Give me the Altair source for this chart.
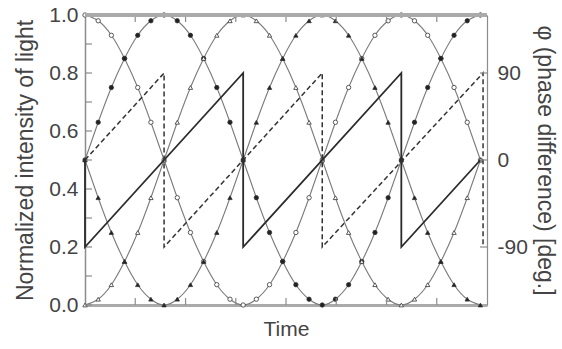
import altair as alt
import pandas as pd

# Sampling instants (time steps) and the four normalized intensities
t = list(range(31))
i_open_circle = [1.00, 0.98, 0.93, 0.85, 0.75, 0.63, 0.50, 0.37, 0.25, 0.15, 0.07, 0.02, 0.00, 0.02, 0.07, 0.15,
                 0.25, 0.37, 0.50, 0.63, 0.75, 0.85, 0.93, 0.98, 1.00, 0.98, 0.93, 0.85, 0.75, 0.63, 0.50]
i_filled_circle = [0.50, 0.63, 0.75, 0.85, 0.93, 0.98, 1.00, 0.98, 0.93, 0.85, 0.75, 0.63, 0.50, 0.37, 0.25, 0.15,
                   0.07, 0.02, 0.00, 0.02, 0.07, 0.15, 0.25, 0.37, 0.50, 0.63, 0.75, 0.85, 0.93, 0.98, 1.00]
i_open_triangle = [0.00, 0.02, 0.07, 0.15, 0.25, 0.37, 0.50, 0.63, 0.75, 0.85, 0.93, 0.98, 1.00, 0.98, 0.93, 0.85,
                   0.75, 0.63, 0.50, 0.37, 0.25, 0.15, 0.07, 0.02, 0.00, 0.02, 0.07, 0.15, 0.25, 0.37, 0.50]
i_filled_triangle = [0.50, 0.37, 0.25, 0.15, 0.07, 0.02, 0.00, 0.02, 0.07, 0.15, 0.25, 0.37, 0.50, 0.63, 0.75, 0.85,
                     0.93, 0.98, 1.00, 0.98, 0.93, 0.85, 0.75, 0.63, 0.50, 0.37, 0.25, 0.15, 0.07, 0.02, 0.00]

# Phase difference traces (deg.)
phase_solid_t = [0, 0, 12, 12, 24, 24, 30]
phase_solid = [0, -90, 90, -90, 90, -90, 0]
phase_dashed_t = [0, 6, 6, 18, 18, 30.2, 30.2]
phase_dashed = [0, 90, -90, 90, -90, 90, -90]

# Axis tick positions
time_ticks = [3.81, 7.63, 11.44, 15.25, 19.06, 22.88, 26.69]
intensity_labels = [0.0, 0.2, 0.4, 0.6, 0.8, 1.0]
intensity_ticks = [0.0, 0.1, 0.2, 0.3, 0.4, 0.5, 0.6, 0.7, 0.8, 0.9, 1.0]
phase_labels = [-90, 0, 90]

W, H = 402, 290
FONT = "Liberation Sans"
TXT = "#444444"

series_names = ["a", "b", "c", "d"]
series_values = [i_open_circle, i_filled_circle, i_open_triangle, i_filled_triangle]
rows = []
for name, vals in zip(series_names, series_values):
    for ti, v in zip(t, vals):
        rows.append({"t": ti, "I": v, "series": name})
df_int = pd.DataFrame(rows)

df_solid = pd.DataFrame({"t": phase_solid_t, "phi": phase_solid, "k": range(len(phase_solid))})
df_dashed = pd.DataFrame({"t": phase_dashed_t, "phi": phase_dashed, "k": range(len(phase_dashed))})

x_scale = alt.Scale(domain=[0, 30.5], nice=False, zero=False)
y_scale = alt.Scale(domain=[0, 1], nice=False)
phi_scale = alt.Scale(domain=[-150, 150], nice=False)

x_axis = alt.Axis(labels=False, ticks=False, grid=False, title="Time", titlePadding=13,
                  domainColor="#aaaaaa", domainWidth=3, titleFontSize=21, titleFontWeight="normal",
                  titleColor=TXT, titleFont=FONT)
y_axis = alt.Axis(values=intensity_labels, format=".1f", ticks=False, grid=False, labelPadding=7,
                  labelFontSize=21, labelColor=TXT, labelFont=FONT, labelOverlap=False,
                  title="Normalized intensity of light", titleFontSize=23, titleFontWeight="normal",
                  titleColor=TXT, titleFont=FONT, titlePadding=11, domainColor="#8c8c8c", domainWidth=1.5)
phi_axis = alt.Axis(orient="right", values=phase_labels, labelExpr="'' + datum.value", ticks=False, grid=False,
                    labelPadding=10, labelFontSize=21, labelColor=TXT, labelFont=FONT,
                    title="φ (phase difference) [deg.]", titleFontSize=23, titleFontWeight="normal",
                    titleColor=TXT, titleFont=FONT, titlePadding=5, domainColor="#8c8c8c", domainWidth=1.2)

base_int = alt.Chart(df_int)

curves = base_int.mark_line(color="#7a7a7a", strokeWidth=1.1, interpolate="natural").encode(
    x=alt.X("t:Q", scale=x_scale, axis=x_axis),
    y=alt.Y("I:Q", scale=y_scale, axis=y_axis),
    detail="series:N",
)

markers = base_int.mark_point(filled=True, stroke="#333333", strokeWidth=0.8, opacity=1).encode(
    x=alt.X("t:Q", scale=x_scale, axis=x_axis),
    y=alt.Y("I:Q", scale=y_scale, axis=y_axis),
    fill=alt.Fill("series:N", scale=alt.Scale(domain=series_names,
                                               range=["white", "#222222", "white", "#222222"]), legend=None),
    shape=alt.Shape("series:N", scale=alt.Scale(domain=series_names,
                                                 range=["circle", "circle", "triangle-up", "triangle-up"]),
                    legend=None),
    size=alt.value(19),
)

# Inward tick marks on the left and along the bottom/top edges
left_ticks = alt.Chart(pd.DataFrame({"v": intensity_ticks})).mark_rule(color="#8c8c8c", strokeWidth=1.2).encode(
    y=alt.Y("v:Q", scale=y_scale, axis=y_axis),
    x=alt.value(0),
    x2=alt.value(7),
)
time_df = pd.DataFrame({"v": time_ticks})
bottom_ticks = alt.Chart(time_df).mark_rule(color="#8c8c8c", strokeWidth=1.2).encode(
    x=alt.X("v:Q", scale=x_scale, axis=x_axis),
    y=alt.value(H),
    y2=alt.value(H - 7),
)
top_ticks = alt.Chart(time_df).mark_rule(color="#8c8c8c", strokeWidth=1.2).encode(
    x=alt.X("v:Q", scale=x_scale, axis=x_axis),
    y=alt.value(0),
    y2=alt.value(7),
)
top_border = alt.Chart(time_df).mark_rule(color="#aaaaaa", strokeWidth=3).encode(
    x=alt.value(0),
    x2=alt.value(W),
    y=alt.value(0),
)

left_group = alt.layer(curves, markers, left_ticks, bottom_ticks, top_ticks, top_border)

solid = alt.Chart(df_solid).mark_line(color="#2b2b2b", strokeWidth=1.8).encode(
    x=alt.X("t:Q", scale=x_scale, axis=x_axis),
    y=alt.Y("phi:Q", scale=phi_scale, axis=phi_axis),
    order="k:Q",
)
dashed = alt.Chart(df_dashed).mark_line(color="#333333", strokeWidth=1.5, strokeDash=[5, 3]).encode(
    x=alt.X("t:Q", scale=x_scale, axis=x_axis),
    y=alt.Y("phi:Q", scale=phi_scale, axis=phi_axis),
    order="k:Q",
)
right_ticks = alt.Chart(pd.DataFrame({"v": phase_labels})).mark_rule(color="#8c8c8c", strokeWidth=1.2).encode(
    y=alt.Y("v:Q", scale=phi_scale, axis=phi_axis),
    x=alt.value(W),
    x2=alt.value(W - 7),
)

right_group = alt.layer(solid, dashed, right_ticks)

chart = alt.layer(left_group, right_group).resolve_scale(y="independent").properties(
    width=W,
    height=H,
    padding={"left": 85, "top": 15, "right": 75, "bottom": 44},
    autosize=alt.AutoSizeParams(type="none"),
).configure_view(stroke=None).configure(background="white")

chart.save("out.html", embed_options={"renderer": "svg", "actions": False})
